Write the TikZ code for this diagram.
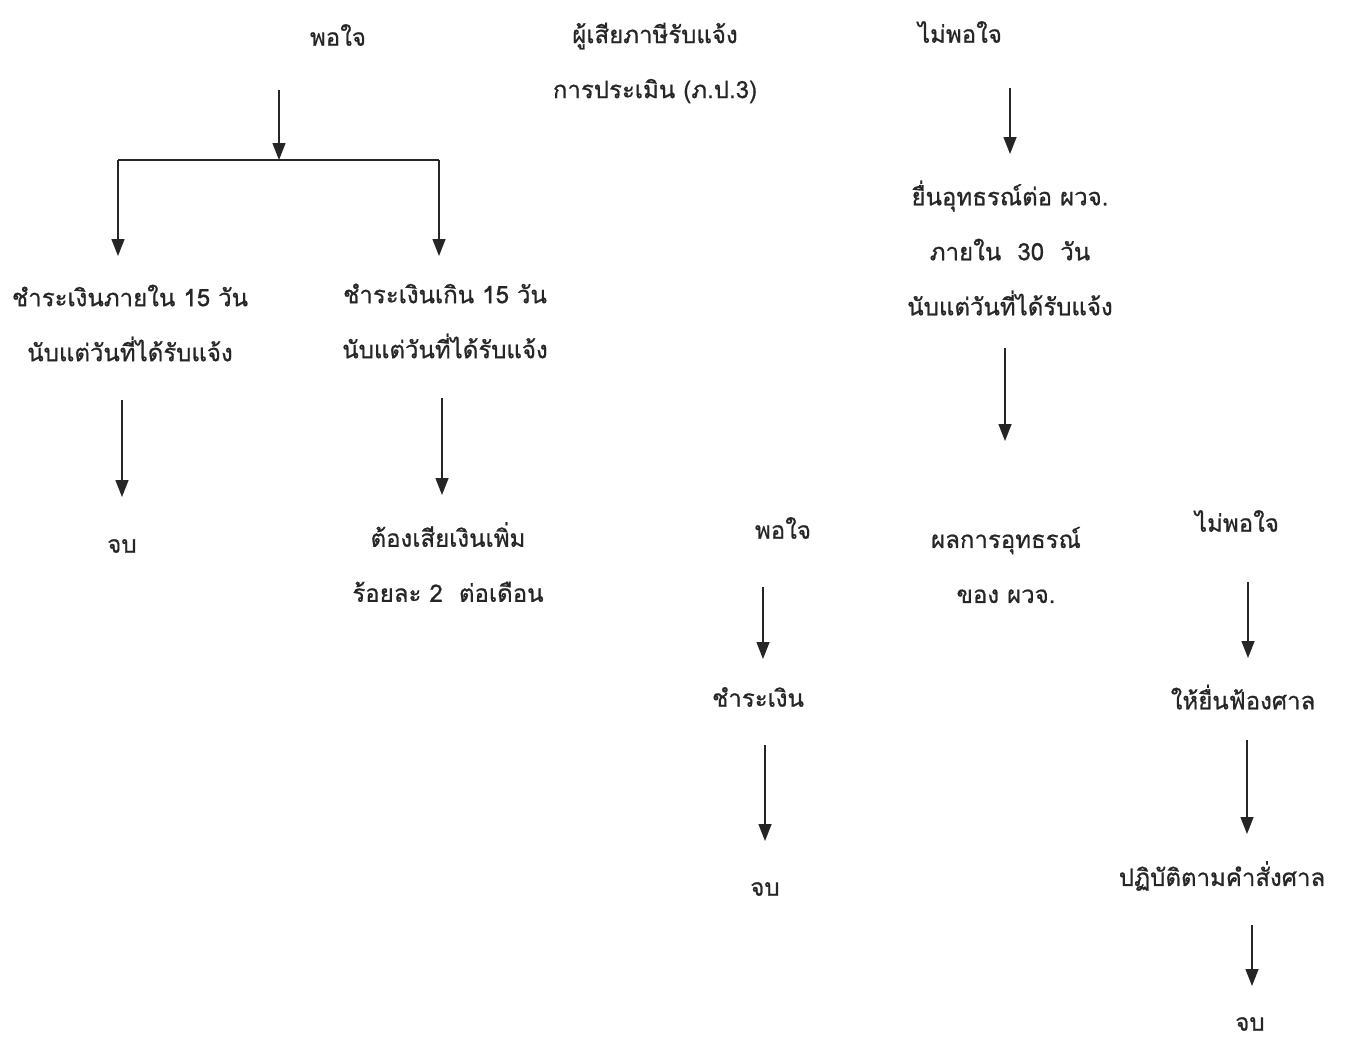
\documentclass[tikz,border=0pt]{standalone}
\usepackage{fontspec}
\newfontfamily\thaifont[Script=Thai,FakeBold=0.8]{Loma}
\usetikzlibrary{arrows.meta}
\begin{document}
\begin{tikzpicture}[x=1pt,y=1pt,
  txt/.style={font=\thaifont\fontsize{24}{55}\selectfont, align=center, inner sep=0pt, text=black!85},
  arr/.style={draw=black!85, line width=1.4pt, -{Triangle[length=17pt,width=13pt]}},
  ln/.style={draw=black!85, line width=1.4pt}]
\useasboundingbox (0,0) rectangle (1349,-1042);
% top row
\node[txt] (pojA) at (338,-35) {พอใจ};
\node[txt] (head) at (655,-63) {ผู้เสียภาษีรับแจ้ง\\การประเมิน (ภ.ป.3)};
\node[txt] (npojA) at (960,-32) {ไม่พอใจ};
% left tree
\node[txt] (pay15) at (130,-323) {ชำระเงินภายใน 15 วัน\\นับแต่วันที่ได้รับแจ้ง};
\node[txt] (over15) at (445,-321) {ชำระเงินเกิน 15 วัน\\นับแต่วันที่ได้รับแจ้ง};
\node[txt] (endA) at (122,-546) {จบ};
\node[txt] (extra) at (448,-562) {ต้องเสียเงินเพิ่ม\\ร้อยละ 2~~ต่อเดือน};
\coordinate (s0) at (279,-90);
\coordinate (j0) at (279,-160);
\coordinate (jl) at (118,-160);
\coordinate (jr) at (439,-160);
\coordinate (el) at (118,-256);
\coordinate (er) at (439,-256);
\draw[arr] (s0) -- (j0);
\draw[ln] (jl) -- (jr);
\draw[arr] (jl) -- (el);
\draw[arr] (jr) -- (er);
\coordinate (a1s) at (122,-400); \coordinate (a1e) at (122,-497);
\coordinate (a2s) at (442,-398); \coordinate (a2e) at (442,-495);
\draw[arr] (a1s) -- (a1e);
\draw[arr] (a2s) -- (a2e);
% right tree
\node[txt] (appeal) at (1010,-248) {ยื่นอุทธรณ์ต่อ ผวจ.\\ภายใน~~30~~วัน\\นับแต่วันที่ได้รับแจ้ง};
\node[txt] (pojB) at (783,-528) {พอใจ};
\node[txt] (result) at (1006,-565) {ผลการอุทธรณ์\\ของ ผวจ.};
\node[txt] (npojB) at (1237,-521) {ไม่พอใจ};
\node[txt] (payB) at (758,-697) {ชำระเงิน};
\node[txt] (sue) at (1243,-697) {ให้ยื่นฟ้องศาล};
\node[txt] (endB) at (765,-889) {จบ};
\node[txt] (court) at (1222,-876) {ปฏิบัติตามคำสั่งศาล};
\node[txt] (endC) at (1250,-1024) {จบ};
\coordinate (b1s) at (1010,-88);  \coordinate (b1e) at (1010,-154);
\coordinate (b2s) at (1005,-348); \coordinate (b2e) at (1005,-441);
\coordinate (b3s) at (763,-587);  \coordinate (b3e) at (763,-659);
\coordinate (b4s) at (1248,-582); \coordinate (b4e) at (1248,-658);
\coordinate (b5s) at (765,-745);  \coordinate (b5e) at (765,-841);
\coordinate (b6s) at (1247,-740); \coordinate (b6e) at (1247,-834);
\coordinate (b7s) at (1252,-925); \coordinate (b7e) at (1252,-986);
\foreach \k in {1,...,7} {\draw[arr] (b\k s) -- (b\k e);}
\end{tikzpicture}
\end{document}
